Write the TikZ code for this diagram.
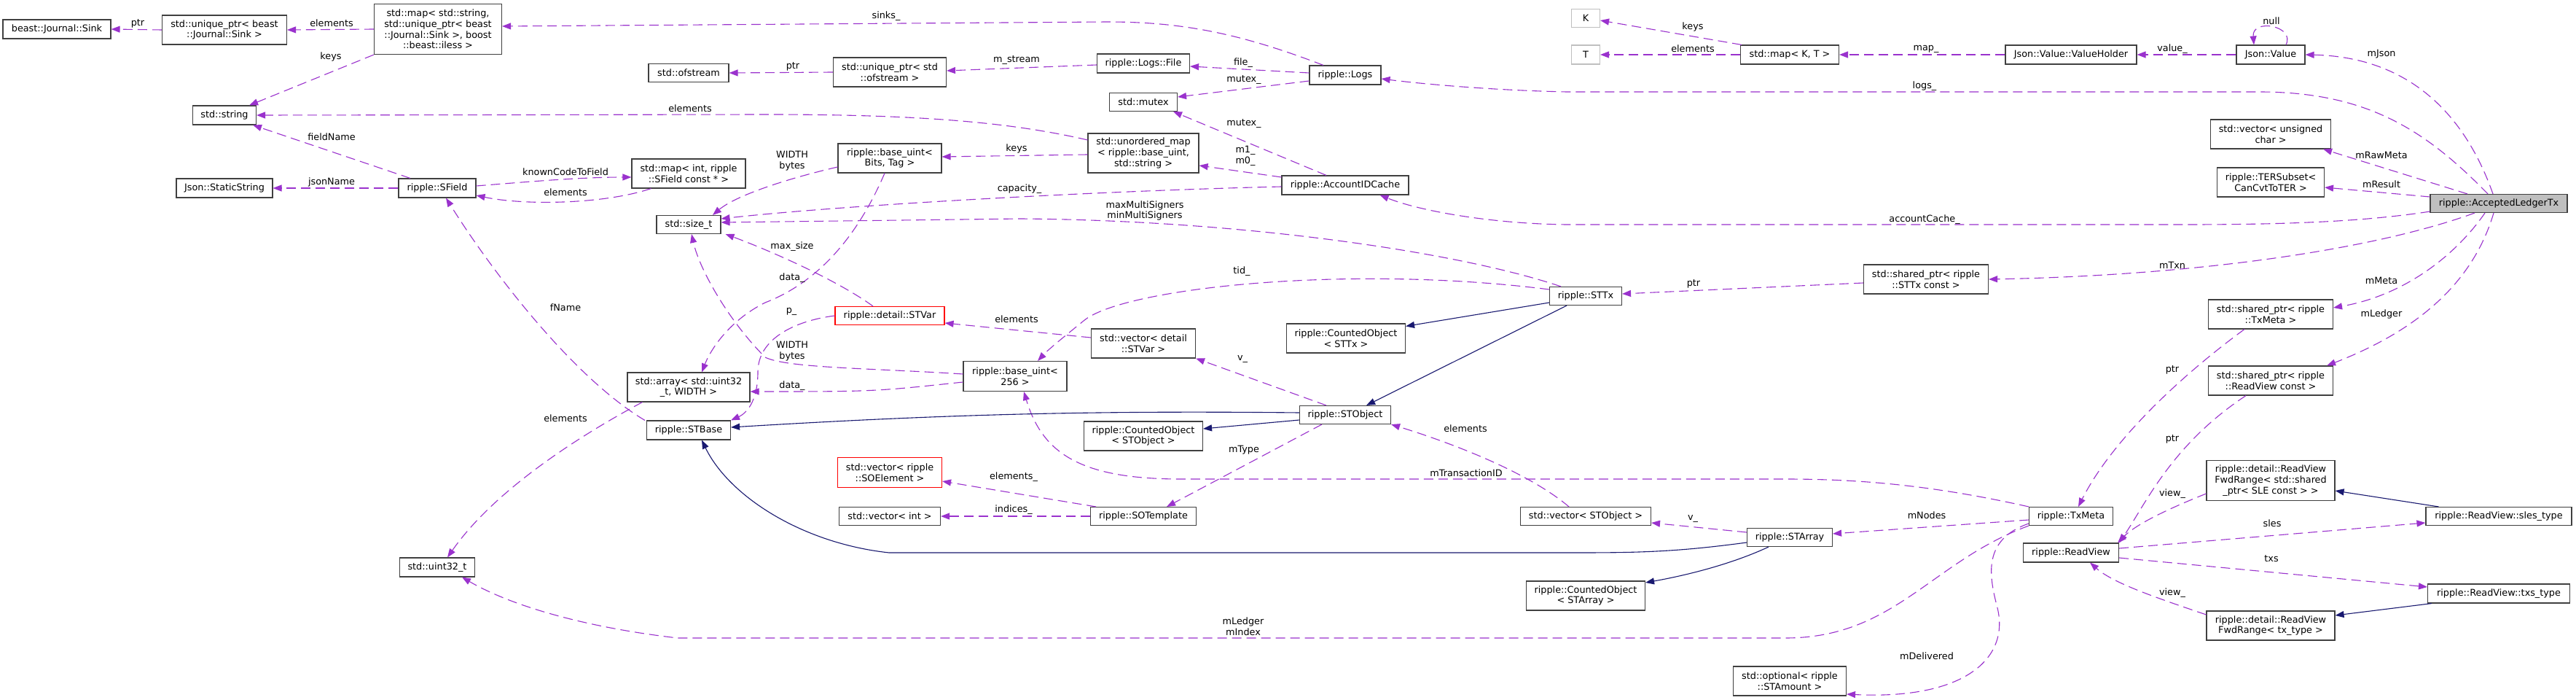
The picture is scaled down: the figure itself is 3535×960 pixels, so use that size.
\documentclass[tikz,border=0pt]{standalone}
\usepackage{fontspec}
\setmainfont{DejaVu Sans}
\usetikzlibrary{arrows.meta,calc}
\definecolor{purp}{RGB}{154,50,205}
\definecolor{mblue}{RGB}{25,25,112}
\definecolor{bord}{RGB}{64,64,64}
\definecolor{lgray}{RGB}{191,191,191}
\begin{document}
\begin{tikzpicture}[x=1pt,y=-1pt,
  cbox/.style={draw=bord, line width=1.1pt, fill=white, align=center, inner xsep=3pt, inner ysep=2pt, font=\fontsize{12.8pt}{14.7pt}\selectfont},
  redbox/.style={cbox, draw=red},
  graybox/.style={cbox, draw=lgray},
  altbox/.style={cbox, fill=lgray},
  lbl/.style={inner sep=0pt, align=center, font=\fontsize{12.8pt}{14.7pt}\selectfont},
  dep/.style={draw=purp, line width=1.1pt, dash pattern=on 13pt off 7pt, -{Triangle[length=12pt,width=9pt]}},
  inh/.style={draw=mblue, line width=1.1pt, -{Triangle[length=12pt,width=9pt]}},
]
\fill[white] (0,0) rectangle (3535,960);
\useasboundingbox (0,0) rectangle (3535,960);

% ---- nodes ----
\node[cbox, minimum width=148pt, minimum height=26pt] (sink) at (78,40) {beast::Journal::Sink};
\node[cbox, minimum width=171pt, minimum height=40pt] (uptrsink) at (308,41) {std::unique\_ptr< beast\\::Journal::Sink >};
\node[cbox, minimum width=175pt, minimum height=69pt] (mapsinks) at (601,40) {std::map< std::string,\\std::unique\_ptr< beast\\::Journal::Sink >, boost\\::beast::iless >};
\node[cbox, minimum width=87pt, minimum height=26pt] (string) at (308,158) {std::string};
\node[cbox, minimum width=132pt, minimum height=26pt] (staticstr) at (308,258) {Json::StaticString};
\node[cbox, minimum width=106pt, minimum height=26pt] (sfield) at (600,258) {ripple::SField};
\node[cbox, minimum width=110pt, minimum height=25pt] (ofstream) at (945,100) {std::ofstream};
\node[cbox, minimum width=156pt, minimum height=40pt] (mapint) at (945,238) {std::map< int, ripple\\::SField const * >};
\node[cbox, minimum width=88pt, minimum height=25pt] (sizet) at (945,308) {std::size\_t};
\node[cbox, minimum width=155pt, minimum height=40pt] (uptrofs) at (1221,99) {std::unique\_ptr< std\\::ofstream >};
\node[cbox, minimum width=142pt, minimum height=40pt] (baseuintbt) at (1221,217) {ripple::base\_uint<\\Bits, Tag >};
\node[redbox, minimum width=150pt, minimum height=25pt] (stvar) at (1221,433) {ripple::detail::STVar};
\node[cbox, minimum width=168pt, minimum height=40pt] (array) at (945,531) {std::array< std::uint32\\\_t, WIDTH >};
\node[cbox, minimum width=115pt, minimum height=26pt] (stbase) at (945,590) {ripple::STBase};
\node[cbox, minimum width=103pt, minimum height=26pt] (uint32) at (600,778) {std::uint32\_t};
\node[cbox, minimum width=127pt, minimum height=26pt] (logsfile) at (1569,87) {ripple::Logs::File};
\node[cbox, minimum width=93pt, minimum height=25pt] (mutex) at (1569,140) {std::mutex};
\node[cbox, minimum width=152pt, minimum height=54pt] (umap) at (1569,210) {std::unordered\_map\\< ripple::base\_uint,\\std::string >};
\node[cbox, minimum width=143pt, minimum height=40pt] (vecstvar) at (1569,471) {std::vector< detail\\::STVar >};
\node[cbox, minimum width=142pt, minimum height=41pt] (base256) at (1393,516) {ripple::base\_uint<\\256 >};
\node[cbox, minimum width=163pt, minimum height=40pt] (coSTObject) at (1569,598) {ripple::CountedObject\\< STObject >};
\node[redbox, minimum width=143pt, minimum height=41pt] (vecsoel) at (1221,648) {std::vector< ripple\\::SOElement >};
\node[cbox, minimum width=139pt, minimum height=25pt] (vecint) at (1221,708) {std::vector< int >};
\node[cbox, minimum width=145pt, minimum height=25pt] (sotemplate) at (1569,708) {ripple::SOTemplate};
\node[graybox, minimum width=39pt, minimum height=25pt] (K) at (2176,25) {K};
\node[graybox, minimum width=39pt, minimum height=26pt] (T) at (2176,75) {T};
\node[cbox, minimum width=98pt, minimum height=26pt] (logs) at (1846,103) {ripple::Logs};
\node[cbox, minimum width=174pt, minimum height=26pt] (acctcache) at (1846,254) {ripple::AccountIDCache};
\node[cbox, minimum width=99pt, minimum height=25pt] (sttx) at (2176,406) {ripple::STTx};
\node[cbox, minimum width=163pt, minimum height=40pt] (coSTTx) at (1847,464) {ripple::CountedObject\\< STTx >};
\node[cbox, minimum width=125pt, minimum height=25pt] (stobject) at (1846,569) {ripple::STObject};
\node[cbox, minimum width=179pt, minimum height=25pt] (vecstobj) at (2176,708) {std::vector< STObject >};
\node[cbox, minimum width=163pt, minimum height=40pt] (coSTArray) at (2176,817) {ripple::CountedObject\\< STArray >};
\node[cbox, minimum width=135pt, minimum height=26pt] (mapkt) at (2456,75) {std::map< K, T >};
\node[cbox, minimum width=180pt, minimum height=26pt] (valueholder) at (2842,75) {Json::Value::ValueHolder};
\node[cbox, minimum width=171pt, minimum height=40pt] (sptrsttx) at (2643,383) {std::shared\_ptr< ripple\\::STTx const >};
\node[cbox, minimum width=117pt, minimum height=25pt] (stArray) at (2456,737) {ripple::STArray};
\node[cbox, minimum width=155pt, minimum height=40pt] (optional) at (2456,934) {std::optional< ripple\\::STAmount >};
\node[cbox, minimum width=115pt, minimum height=25pt] (txmeta) at (2842,708) {ripple::TxMeta};
\node[cbox, minimum width=131pt, minimum height=26pt] (readview) at (2842,758) {ripple::ReadView};
\node[cbox, minimum width=94pt, minimum height=26pt] (jsonvalue) at (3116,75) {Json::Value};
\node[cbox, minimum width=165pt, minimum height=40pt] (vecuchar) at (3116,184) {std::vector< unsigned\\char >};
\node[cbox, minimum width=147pt, minimum height=40pt] (tersubset) at (3116,250) {ripple::TERSubset<\\CanCvtToTER >};
\node[cbox, minimum width=171pt, minimum height=40pt] (sptrtxmeta) at (3116,431) {std::shared\_ptr< ripple\\::TxMeta >};
\node[cbox, minimum width=171pt, minimum height=40pt] (sptrrv) at (3116,522) {std::shared\_ptr< ripple\\::ReadView const >};
\node[cbox, minimum width=176pt, minimum height=55pt] (fwdsle) at (3116,659) {ripple::detail::ReadView\\FwdRange< std::shared\\\_ptr< SLE const > >};
\node[cbox, minimum width=176pt, minimum height=40pt] (fwdtx) at (3116,858) {ripple::detail::ReadView\\FwdRange< tx\_type >};
\node[altbox, minimum width=188pt, minimum height=25pt] (alt) at (3429,279) {ripple::AcceptedLedgerTx};
\node[cbox, minimum width=200pt, minimum height=25pt] (slestype) at (3429,708) {ripple::ReadView::sles\_type};
\node[cbox, minimum width=195pt, minimum height=26pt] (txstype) at (3429,814) {ripple::ReadView::txs\_type};

% ---- usage edges ----
\draw[dep] (uptrsink.west) -- (sink.east);
\draw[dep] (mapsinks.west) -- (uptrsink.east);
\draw[dep] (mapsinks.south west) -- ($(string.north east)+(-10,0)$);
\draw[dep] ($(umap.west)+(0,-18)$) .. controls (1380,166) and (1250,157) .. (1050,157) -- (string.east);
\draw[dep] ($(sfield.north)+(-37,0)$) -- ($(string.south east)+(-5,0)$);
\draw[dep] (sfield.west) -- (staticstr.east);
\draw[dep] ($(sfield.east)+(0,-3)$) .. controls (740,248) and (800,243) .. ($(mapint.west)+(0,5)$);
\draw[dep] ($(mapint.south west)+(27,0)$) .. controls (830,280) and (720,282) .. ($(sfield.east)+(0,10)$);
\draw[dep] ($(logs.north)+(-30,0)$) .. controls (1700,45) and (1620,30) .. (1520,30) -- ($(mapsinks.east)+(0,-4)$);
\draw[dep] (uptrofs.west) -- (ofstream.east);
\draw[dep] ($(logsfile.west)+(0,2)$) -- ($(uptrofs.east)+(0,-2)$);
\draw[dep] ($(logs.west)+(0,-3)$) -- ($(logsfile.east)+(0,4)$);
\draw[dep] ($(logs.west)+(0,8)$) -- ($(mutex.east)+(0,-7)$);
\draw[dep] ($(acctcache.north)+(-26,0)$) -- ($(mutex.south east)+(-6,0)$);
\draw[dep] ($(acctcache.west)+(0,-11)$) -- ($(umap.east)+(0,17)$);
\draw[dep] ($(acctcache.west)+(0,2)$) .. controls (1500,262) and (1150,282) .. ($(sizet.east)+(0,-8)$);
\draw[dep] ($(sttx.north)+(-34,0)$) .. controls (2000,345) and (1700,302) .. (1400,300) -- ($(sizet.east)+(0,-3)$);
\draw[dep] ($(sttx.west)+(0,-9)$) .. controls (1850,362) and (1540,395) .. (1487,440) .. controls (1460,462) and (1440,478) .. ($(base256.north)+(31,0)$);
\draw[dep] ($(umap.west)+(0,2)$) -- ($(baseuintbt.east)+(0,-2)$);
\draw[dep] ($(baseuintbt.west)+(0,12)$) .. controls (1080,245) and (1010,268) .. ($(sizet.north)+(33,0)$);
\draw[dep] ($(baseuintbt.south)+(-7,0)$) .. controls (1170,340) and (1110,392) .. (1050,415) .. controls (1000,440) and (975,480) .. ($(array.north)+(18,0)$);
\draw[dep] ($(base256.west)+(0,-3)$) .. controls (1200,505) and (1080,505) .. (1050,490) .. controls (1000,440) and (960,370) .. ($(sizet.south)+(4,0)$);
\draw[dep] ($(base256.west)+(0,8)$) .. controls (1200,537) .. ($(array.east)+(0,6)$);
\draw[dep] (stvar.west) .. controls (1090,440) and (1040,465) .. (1040,510) .. controls (1040,545) and (1028,565) .. (stbase.north east);
\draw[dep] ($(stbase.north west)+(-2,0)$) .. controls (790,520) and (680,380) .. ($(sfield.south)+(12,0)$);
\draw[dep] ($(stvar.north)+(-23,0)$) .. controls (1150,385) and (1060,345) .. ($(sizet.south east)+(6,0)$);
\draw[dep] ($(array.south west)+(21,0)$) .. controls (800,595) and (680,670) .. ($(uint32.north)+(14,0)$);
\draw[dep] ($(stobject.north)+(-26,0)$) -- (vecstvar.south east);
\draw[dep] ($(vecstvar.west)+(0,-8)$) -- ($(stvar.east)+(0,10)$);
\draw[dep] ($(stobject.south west)+(31,0)$) -- ($(sotemplate.north east)+(-41,0)$);
\draw[dep] ($(sotemplate.north west)+(8,0)$) -- ($(vecsoel.east)+(0,12)$);
\draw[dep] (sotemplate.west) -- (vecint.east);
\draw[dep] ($(vecstobj.north)+(-23,0)$) .. controls (2100,650) and (2000,610) .. (stobject.south east);
\draw[dep] ($(stArray.west)+(0,-7)$) -- ($(vecstobj.east)+(0,9)$);
\draw[dep] (txmeta.north west) .. controls (2650,665) and (2550,657) .. (2450,657) -- (1620,657) .. controls (1480,657) and (1430,620) .. ($(base256.south)+(12,0)$);
\draw[dep] ($(txmeta.west)+(0,5)$) -- ($(stArray.east)+(0,-5)$);
\draw[dep] (txmeta.south west) .. controls (2650,770) and (2600,875) .. (2450,875) -- (930,875) .. controls (800,860) and (700,830) .. ($(uint32.south)+(34,0)$);
\draw[dep] ($(txmeta.west)+(0,10)$) .. controls (2720,740) and (2730,790) .. (2740,830) .. controls (2760,900) and (2700,960) .. ($(optional.east)+(0,18)$);
\draw[dep] ($(sptrsttx.west)+(0,5)$) -- ($(sttx.east)+(0,-3)$);
\draw[dep] ($(alt.south)+(-33,0)$) .. controls (3250,345) and (3000,378) .. (sptrsttx.east);
\draw[dep] ($(alt.north)+(-15,0)$) .. controls (3330,180) and (3250,126) .. (3100,126) -- (2150,126) .. controls (2050,124) and (1950,115) .. ($(logs.east)+(0,5)$);
\draw[dep] ($(alt.south west)+(0,-2)$) .. controls (3250,303) and (3150,308) .. (3000,308) -- (2150,308) .. controls (2050,307) and (1950,290) .. ($(acctcache.south east)+(-40,0)$);
\draw[dep] ($(alt.north)+(-8,0)$) .. controls (3380,150) and (3300,78) .. (jsonvalue.east);
\draw[dep] ($(alt.north)+(-43,0)$) -- ($(vecuchar.south east)+(-11,0)$);
\draw[dep] ($(alt.west)+(0,-9)$) -- ($(tersubset.east)+(0,7)$);
\draw[dep] ($(alt.south)+(-19,0)$) .. controls (3370,350) and (3300,405) .. ($(sptrtxmeta.east)+(0,-9)$);
\draw[dep] ($(alt.south)+(-7,0)$) .. controls (3390,400) and (3300,460) .. ($(sptrrv.north east)+(-9,0)$);
\draw[dep] ($(jsonvalue.north)+(21,0)$) .. controls (3150,35) and (3090,25) .. ($(jsonvalue.north)+(-23,0)$);
\draw[dep] (jsonvalue.west) -- (valueholder.east);
\draw[dep] (valueholder.west) -- (mapkt.east);
\draw[dep] ($(mapkt.north west)+(2,0)$) -- ($(K.east)+(0,3)$);
\draw[dep] (mapkt.west) -- (T.east);
\draw[dep] ($(sptrtxmeta.south)+(-36,0)$) .. controls (3000,510) and (2900,600) .. ($(txmeta.north)+(10,0)$);
\draw[dep] ($(sptrrv.south)+(-34,0)$) .. controls (2980,610) and (2945,690) .. (readview.north east);
\draw[dep] ($(fwdsle.west)+(0,18)$) .. controls (2970,700) and (2930,720) .. ($(readview.north east)+(-2,0)$);
\draw[dep] ($(readview.east)+(0,-6)$) -- ($(slestype.west)+(0,9)$);
\draw[dep] ($(readview.east)+(0,7)$) -- ($(txstype.west)+(0,-9)$);
\draw[dep] ($(fwdtx.west)+(0,-15)$) .. controls (2960,820) and (2900,800) .. ($(readview.south east)+(-40,0)$);

% ---- inheritance edges ----
\draw[inh] ($(stobject.west)+(0,-3)$) .. controls (1500,563) and (1300,568) .. ($(stbase.east)+(0,-4)$);
\draw[inh] ($(stArray.west)+(0,7)$) .. controls (2300,757) and (2250,758) .. (2160,758) -- (1220,758) .. controls (1100,745) and (1000,680) .. ($(stbase.south)+(18,0)$);
\draw[inh] ($(stArray.south west)+(30,0)$) .. controls (2380,772) and (2320,788) .. ($(coSTArray.east)+(0,-18)$);
\draw[inh] ($(stobject.west)+(0,7)$) -- ($(coSTObject.east)+(0,-10)$);
\draw[inh] ($(sttx.south)+(-26,0)$) -- ($(stobject.north east)+(-34,0)$);
\draw[inh] ($(sttx.west)+(0,9)$) -- ($(coSTTx.north east)+(0,4)$);
\draw[inh] ($(slestype.north west)+(18,0)$) -- ($(fwdsle.east)+(0,14)$);
\draw[inh] ($(txstype.south west)+(6,0)$) -- ($(fwdtx.east)+(0,-14)$);

% ---- labels ----
\node[lbl] (l1) at (189,32) {ptr};
\node[lbl] (l2) at (455,32) {elements};
\node[lbl] (l3) at (454,78) {keys};
\node[lbl] (l4) at (947,149) {elements};
\node[lbl] (l5) at (455,188) {fieldName};
\node[lbl] (l6) at (455,250) {jsonName};
\node[lbl] (l7) at (776,236) {knownCodeToField};
\node[lbl] (l8) at (776,264) {elements};
\node[lbl] (l9) at (1216,22) {sinks\_};
\node[lbl] (l10) at (1088,91) {ptr};
\node[lbl] (l11) at (1395,83) {m\_stream};
\node[lbl] (l12) at (1706,86) {file\_};
\node[lbl] (l13) at (1707,110) {mutex\_};
\node[lbl] (l14) at (1707,170) {mutex\_};
\node[lbl] (l15) at (1709,214) {m1\_\\m0\_};
\node[lbl] (l16) at (1399,259) {capacity\_};
\node[lbl] (l17) at (1571,289) {maxMultiSigners\\minMultiSigners};
\node[lbl] (l18) at (1704,372) {tid\_};
\node[lbl] (l19) at (1395,204) {keys};
\node[lbl] (l20) at (1087,221) {WIDTH\\bytes};
\node[lbl] (l21) at (1087,381) {data\_};
\node[lbl] (l22) at (1087,482) {WIDTH\\bytes};
\node[lbl] (l23) at (1087,529) {data\_};
\node[lbl] (l24) at (1086,427) {p\_};
\node[lbl] (l25) at (776,422) {fName};
\node[lbl] (l26) at (1087,338) {max\_size};
\node[lbl] (l27) at (776,574) {elements};
\node[lbl] (l28) at (1705,493) {v\_};
\node[lbl] (l29) at (1395,438) {elements};
\node[lbl] (l30) at (1707,617) {mType};
\node[lbl] (l31) at (1391,654) {elements\_};
\node[lbl] (l32) at (1391,699) {indices\_};
\node[lbl] (l33) at (2011,588) {elements};
\node[lbl] (l34) at (2323,712) {v\_};
\node[lbl] (l35) at (2012,649) {mTransactionID};
\node[lbl] (l36) at (2644,707) {mNodes};
\node[lbl] (l37) at (1706,859) {mLedger\\mIndex};
\node[lbl] (l38) at (2644,900) {mDelivered};
\node[lbl] (l39) at (2324,389) {ptr};
\node[lbl] (l40) at (2981,364) {mTxn};
\node[lbl] (l41) at (2641,118) {logs\_};
\node[lbl] (l42) at (2641,301) {accountCache\_};
\node[lbl] (l43) at (3268,74) {mJson};
\node[lbl] (l44) at (3268,213) {mRawMeta};
\node[lbl] (l45) at (3268,253) {mResult};
\node[lbl] (l46) at (3268,385) {mMeta};
\node[lbl] (l47) at (3268,431) {mLedger};
\node[lbl] (l48) at (3117,29) {null};
\node[lbl] (l49) at (2981,67) {value\_};
\node[lbl] (l50) at (2643,67) {map\_};
\node[lbl] (l51) at (2323,37) {keys};
\node[lbl] (l52) at (2323,67) {elements};
\node[lbl] (l53) at (2981,507) {ptr};
\node[lbl] (l54) at (2981,602) {ptr};
\node[lbl] (l55) at (2981,677) {view\_};
\node[lbl] (l56) at (3118,718) {sles};
\node[lbl] (l57) at (3117,766) {txs};
\node[lbl] (l58) at (2981,813) {view\_};
\end{tikzpicture}
\end{document}
